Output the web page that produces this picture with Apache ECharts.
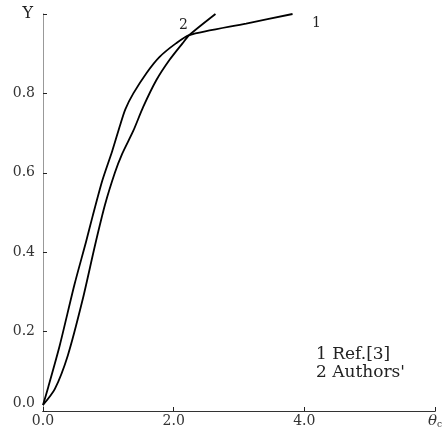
<!DOCTYPE html>
<html>
<head>
<meta charset="utf-8">
<script src="https://cdn.jsdelivr.net/npm/echarts@6/dist/echarts.min.js"></script>
<style>
html,body{margin:0;padding:0;background:#fff;}
#c{width:445px;height:433px;}
</style>
</head>
<body>
<div id="c"></div>
<script>
// Curve 1: Ref.[3]
var ref3X = [0, 0.08, 0.256, 0.481, 0.657, 0.757, 0.907, 1.06, 1.18, 1.26, 1.383, 1.583, 1.785, 2.035, 2.24, 3.11, 3.82];
var ref3Y = [0.015, 0.06, 0.165, 0.318, 0.425, 0.489, 0.58, 0.655, 0.72, 0.76, 0.80, 0.851, 0.892, 0.926, 0.947, 0.976, 1.0];
// Curve 2: Authors'
var authX = [0, 0.18, 0.38, 0.606, 0.80, 0.95, 1.10, 1.21, 1.383, 1.534, 1.734, 1.935, 2.135, 2.24, 2.64];
var authY = [0.015, 0.055, 0.14, 0.28, 0.42, 0.52, 0.60, 0.647, 0.706, 0.766, 0.833, 0.884, 0.926, 0.947, 1.0];
// Tick labels
var xTickValues = [0, 2, 4, 6];
var xTickLabels = ['0.0', '2.0', '4.0', 'θc'];
var yTickValues = [0, 0.2, 0.4, 0.6, 0.8, 1.0];
var yTickLabels = ['0.0', '0.2', '0.4', '0.6', '0.8', 'Y'];
var legendLines = ['1 Ref.[3]', "2 Authors'"];
var curveTags = ['1', '2'];

function pairs(xs, ys) { return xs.map(function (x, i) { return [x, ys[i]]; }); }

var FONT = 'DejaVu Serif';
var chart = echarts.init(document.getElementById('c'));
chart.setOption({
  animation: false,
  backgroundColor: '#fff',
  grid: { left: 43, right: 4, top: 14, bottom: 22 },
  xAxis: [{
    type: 'value', min: 0, max: 6, interval: 2,
    axisLine: { lineStyle: { color: '#222', width: 1.2 } },
    axisTick: { inside: true, length: 4, lineStyle: { color: '#222' } },
    splitLine: { show: false },
    axisLabel: {
      margin: 3, showMinLabel: true, showMaxLabel: true,
      color: '#333', fontFamily: FONT, fontSize: 14,
      formatter: function (v) {
        var i = xTickValues.indexOf(v);
        if (i === 3) return '{th|θ}{sub|c}';
        return i >= 0 ? xTickLabels[i] : '';
      },
      rich: {
        th: { fontFamily: FONT, fontStyle: 'italic', fontSize: 15, color: '#333' },
        sub: { fontFamily: FONT, fontSize: 9, color: '#333', verticalAlign: 'bottom', padding: [6, 0, 0, 0] }
      }
    }
  }, {
    type: 'value', min: 0, max: 6, position: 'top',
    axisLine: { lineStyle: { color: '#333', width: 1.2 } },
    axisTick: { show: false }, axisLabel: { show: false }, splitLine: { show: false }
  }],
  yAxis: [{
    type: 'value', min: 0, max: 1, interval: 0.2,
    axisLine: { lineStyle: { color: '#aaa', width: 1 } },
    axisTick: { inside: true, length: 4, lineStyle: { color: '#222' } },
    splitLine: { show: false },
    axisLabel: {
      margin: 8, color: '#333', fontFamily: FONT, fontSize: 14,
      formatter: function (v) {
        var i = -1;
        yTickValues.forEach(function (t, k) { if (Math.abs(t - v) < 1e-6) i = k; });
        if (i === 0) return '{z|' + yTickLabels[0] + '}';
        if (i === 5) return '{y|' + yTickLabels[5] + '}';
        return i >= 0 ? yTickLabels[i] : '';
      },
      rich: {
        z: { fontFamily: FONT, fontSize: 14, color: '#333', padding: [0, 0, 16, 0] },
        y: { fontFamily: FONT, fontSize: 16, color: '#222', padding: [0, 2, 0, 0] }
      }
    }
  }, {
    type: 'value', min: 0, max: 1, position: 'right',
    axisLine: { lineStyle: { color: '#999', width: 1 } },
    axisTick: { show: false }, axisLabel: { show: false }, splitLine: { show: false }
  }],
  series: [{
    name: legendLines[0], type: 'line', xAxisIndex: 0, yAxisIndex: 0,
    data: pairs(ref3X, ref3Y), showSymbol: false, smooth: 0.25,
    lineStyle: { color: '#000', width: 1.8 }
  }, {
    name: legendLines[1], type: 'line', xAxisIndex: 0, yAxisIndex: 0,
    data: pairs(authX, authY), showSymbol: false, smooth: 0.25,
    lineStyle: { color: '#000', width: 1.8 }
  }],
  graphic: [
    { type: 'text', left: 312, top: 16, style: { text: curveTags[0], font: '14px "' + FONT + '"', fill: '#222' } },
    { type: 'text', left: 179, top: 18, style: { text: curveTags[1], font: '14px "' + FONT + '"', fill: '#222' } },
    { type: 'text', left: 316, top: 346, style: { text: legendLines[0], font: '17px "' + FONT + '"', fill: '#222' } },
    { type: 'text', left: 316, top: 364, style: { text: legendLines[1], font: '17px "' + FONT + '"', fill: '#222' } }
  ]
});
</script>
</body>
</html>
